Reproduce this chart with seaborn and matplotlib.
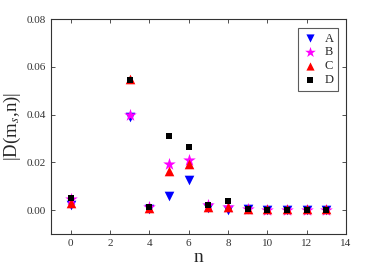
import numpy as np
import pandas as pd
import seaborn as sns
import matplotlib.pyplot as plt
from matplotlib.ticker import FormatStrFormatter

n_vals = [0, 3, 4, 5, 6, 7, 8, 9, 10, 11, 12, 13]
series_a = [0.002, 0.039, 0.0005, 0.006, 0.0125, 0.001, 0.0, 0.0003, 0.0, 0.0, 0.0, 0.0]
series_b = [0.0045, 0.040, 0.0015, 0.0195, 0.021, 0.002, 0.0015, 0.0006, 0.0002, 0.0002, 0.0002, 0.0002]
series_c = [0.003, 0.055, 0.001, 0.0165, 0.0195, 0.0015, 0.0015, 0.0005, 0.0003, 0.0003, 0.0003, 0.0003]
series_d = [0.005, 0.0545, 0.0015, 0.031, 0.0265, 0.002, 0.0037, 0.0005, 0.0, 0.0, 0.0, 0.0]
labels = ["A", "B", "C", "D"]

sns.set_style("ticks")
plt.rcParams["font.family"] = ["Liberation Serif", "DejaVu Serif"]
plt.rcParams["mathtext.fontset"] = "stix"

df = pd.DataFrame({
    "n": n_vals * 4,
    "D": series_a + series_b + series_c + series_d,
    "series": sum([[lab] * len(n_vals) for lab in labels], []),
})

styles = {
    "A": dict(marker="v", color="#0000ff", s=48),
    "B": dict(marker="*", color="#ff00ff", s=90),
    "C": dict(marker="^", color="#ff0000", s=48),
    "D": dict(marker="s", color="#000000", s=22),
}

fig = plt.figure(figsize=(3.82, 2.73), dpi=100)
ax = fig.add_axes([0.1335, 0.143, 0.772, 0.787])

for lab in labels:
    st = styles[lab]
    sns.scatterplot(data=df[df["series"] == lab], x="n", y="D", ax=ax,
                    marker=st["marker"], color=st["color"], s=st["s"],
                    linewidth=0, label=lab, zorder=3)

ax.set_xlim(-1, 14)
ax.set_ylim(-0.01, 0.08)
ax.set_xticks(range(0, 15, 2))
ax.set_yticks([0.0, 0.02, 0.04, 0.06, 0.08])
ax.yaxis.set_major_formatter(FormatStrFormatter("%.2f"))
ax.tick_params(direction="in", top=True, right=True, labelsize=8,
               length=3, width=0.6, colors="#333333", labelcolor="#333333")
for sp in ax.spines.values():
    sp.set_linewidth(0.8)
    sp.set_color("#333333")

ax.set_xlabel("n", fontsize=14, labelpad=1)
ax.set_ylabel(r"|D(m$_s$,n)|", fontsize=13.5, labelpad=3)

leg = ax.legend(loc="upper right", fontsize=9, frameon=True, fancybox=False,
                edgecolor="#333333", handletextpad=0.6, borderpad=0.35,
                labelspacing=0.15, handlelength=1.2, borderaxespad=0,
                markerscale=0.85, bbox_to_anchor=(0.973, 0.958))
leg.get_frame().set_linewidth(0.8)

fig.savefig("out.png", dpi=100)
